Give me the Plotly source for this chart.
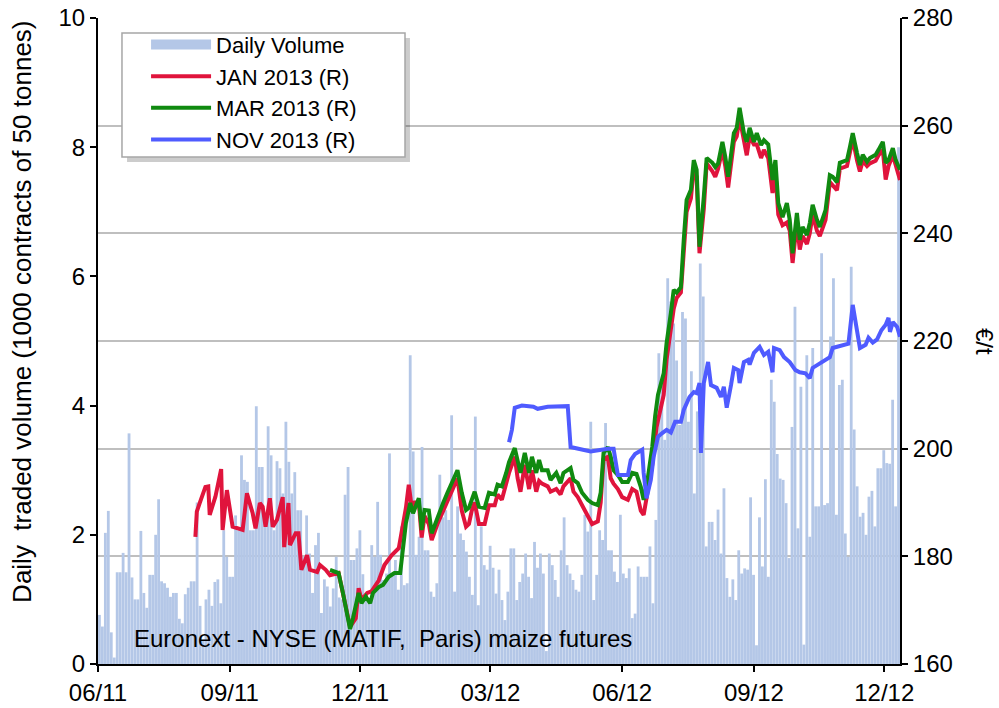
import pandas as pd
import plotly.graph_objects as go

# ---------------- data ----------------
# daily traded volume (1000 contracts), in chronological order, Jun 2011 -> mid Dec 2012
volume = [
    0.76, 0.58, 2.03, 2.37, 0.49, 0.1, 1.42, 1.42, 1.72, 1.42, 3.57, 1.34, 1.0, 1.0, 2.06, 1.1, 0.87, 1.38, 1.38,
    2.0, 2.55, 1.28, 1.25, 1.18, 1.04, 1.1, 1.1, 0.7, 0.63, 1.08, 1.18, 1.28, 1.28, 2.5, 0.9, 0.37, 1.0,
    1.15, 0.9, 1.27, 1.31, 0.94, 2.07, 1.66, 1.35, 1.35, 2.3, 2.07, 3.23, 2.85, 2.82, 2.07, 2.07, 3.99, 3.05,
    3.05, 2.15, 3.68, 3.23, 2.07, 3.14, 3.03, 2.64, 3.75, 3.13, 2.64, 2.97, 2.38, 2.38, 1.66, 2.3, 1.71, 1.1,
    1.84, 2.03, 0.79, 1.31,
    1.2, 0.89, 1.17, 1.66, 1.03, 1.0, 2.62, 3.05, 1.61, 1.61, 1.79, 2.07, 1.39, 0.99, 0.99, 1.84, 1.66, 2.51,
    1.69, 1.3, 1.4, 3.26, 1.4, 1.61, 1.15, 2.13, 1.22, 1.25, 4.78, 3.29, 1.69, 1.97, 3.36, 1.76, 1.76, 1.12,
    1.04, 1.25, 2.93, 2.27,
    2.38, 2.23, 3.85, 1.12, 2.44, 2.02, 1.92, 1.74, 1.35, 1.07, 3.83, 0.91, 2.13, 1.53, 1.46, 1.83, 1.49, 1.09,
    1.46, 0.99, 0.68, 1.12, 1.79, 1.79, 0.99, 1.27, 1.4, 1.71, 1.35, 1.02, 1.89, 1.49, 1.71, 1.4, 0.2, 1.71,
    1.53, 1.3, 1.04, 1.76,
    2.27, 1.53, 1.4, 1.3, 1.15, 1.12, 1.38, 2.31, 2.05, 3.75, 0.99, 1.38, 2.07, 1.92, 3.73, 1.76, 1.76, 1.43,
    1.27, 2.31, 1.4, 1.33, 1.48, 0.71, 0.78, 1.51, 1.35, 1.35, 1.35, 1.82, 0.94, 2.23, 4.81, 4.4, 3.47, 5.97,
    5.61, 5.27, 4.7,
    3.7, 5.45, 5.35, 3.75, 4.53, 2.64, 3.91, 6.2, 5.69, 1.82, 2.2, 2.2, 1.92, 2.39, 1.71, 2.72, 1.33, 1.04,
    1.31, 0.99, 1.76, 1.4, 1.48, 1.46, 2.58, 1.38, 0.29, 2.27, 1.51, 2.86, 1.35, 4.4, 4.06, 3.25, 2.87, 2.85,
    2.49, 1.64, 3.67,
    5.53, 2.1, 4.29, 0.3, 4.78, 1.97, 4.89, 2.44, 2.44, 6.36, 2.46, 2.49, 5.07, 5.97, 2.31, 4.32, 4.4, 2.02,
    1.66, 6.15, 3.63, 2.75, 2.28, 2.34, 2.0, 2.59, 2.68, 2.13, 3.03, 3.03, 3.31, 3.11, 3.1, 4.09, 2.44, 8.0,
]
volume_first_day = "2011-06-02"
volume_last_day = "2012-12-11"

# futures prices (EUR/t); dates given as day offsets from 1 June 2011
base_date = "2011-06-01"
jan_day = [68, 69, 71, 75, 77, 78, 82, 86, 87, 90, 94, 97, 101, 104, 108, 110, 113, 115, 117, 120, 122, 125, 129,
           130, 133, 134, 138, 140, 142, 146, 148, 153, 155, 159, 162, 168, 171, 176, 180, 182, 184, 188, 191, 196,
           200, 205, 210, 213, 215, 217, 219, 221, 224, 226, 228, 231, 233, 237, 241, 244, 247, 251, 254, 257, 259,
           261, 263, 266, 270, 273, 277, 279, 282, 285, 287, 291, 293, 295, 298, 301, 303, 306, 308, 310, 314, 316,
           320, 323, 325, 330, 332, 335, 338, 342, 345, 349, 351, 353, 356, 358, 360, 363, 366, 370, 373, 376, 379,
           381, 384, 387, 390, 395, 397, 400, 402, 404, 407, 409, 411, 414, 416, 418, 420, 423, 425, 429, 431, 433,
           436, 438, 440, 444, 446, 448, 451, 453, 455, 458, 460, 463, 465, 468, 471, 473, 475, 478, 481, 483, 485,
           488, 490, 492, 495, 497, 499, 502, 504, 508, 511, 513, 516, 518, 523, 525, 527, 530, 532, 534, 537, 539,
           543, 545, 548, 550, 552, 555, 557, 560]
jan_eur = [183.6, 188.3, 189.9, 192.9, 193, 187.7, 191.1, 196.2, 184.9, 192.3, 185.5, 185.2, 184.9, 191.7, 188,
           185.2, 189.9, 189.2, 185.5, 190.8, 185.5, 186.8, 191, 181.7, 189.9, 182.1, 184.3, 184.3, 177.5, 180.2,
           177.5, 177.1, 178.4, 177.5, 176.5, 176.9, 173.2, 166.9, 168.5, 174.1, 171.9, 173.2, 173.5, 175.5, 178.4,
           180.2, 181.5, 185.8, 189, 193.3, 189.2, 190, 190, 183.5, 187.5, 186, 183, 186, 188.5, 190.5, 192, 194.5,
           188.5, 185.5, 186, 188.5, 190, 186, 186, 189.5, 189.5, 191.5, 190.5, 193.5, 195.5, 198.5, 194.5, 192,
           197, 192.5, 196, 192, 194, 193.5, 193, 192, 192.5, 191.5, 193, 194.5, 192, 191, 189.5, 187.5, 186,
           186.5, 190, 198, 198.5, 194.5, 193.5, 192.5, 191, 190.5, 192.5, 192, 188.5, 187.7, 192, 197, 204, 210,
           216.5, 222, 226, 228, 229, 236.5, 244, 246.5, 252, 250.5, 236.3, 244.5, 253, 251.5, 250.5, 252, 255.5,
           252.5, 248.5, 257, 258, 261.5, 257, 254.5, 258, 256.5, 256.5, 254, 255.5, 254, 247.5, 251.5, 243.5,
           241.5, 242, 240.5, 234.5, 242, 237, 239.5, 238, 240, 243.5, 240.5, 239.5, 242.5, 249.5, 249, 248, 252,
           252.5, 255, 257.5, 253.5, 251.5, 253.5, 252.5, 253, 253.5, 254.5, 255.5, 250, 252.5, 254.5, 252.5, 249.9]

mar_day = [162, 168, 171, 176, 178, 182, 184, 187, 190, 192, 196, 199, 203, 207, 211, 213, 215, 218, 220, 224, 226,
           228, 231, 233, 237, 241, 244, 247, 251, 254, 257, 259, 261, 263, 266, 270, 273, 277, 279, 282, 285, 287,
           291, 293, 295, 298, 301, 303, 306, 308, 310, 314, 316, 320, 323, 325, 330, 332, 335, 338, 342, 345, 349,
           351, 353, 356, 358, 360, 363, 366, 370, 373, 376, 379, 381, 384, 387, 389, 391, 395, 397, 400, 402, 404,
           407, 409, 411, 414, 416, 418, 420, 423, 425, 429, 431, 433, 436, 438, 440, 444, 446, 448, 451, 453, 455,
           458, 460, 463, 465, 468, 471, 473, 475, 478, 481, 483, 485, 488, 490, 492, 495, 497, 499, 502, 504, 508,
           511, 513, 516, 518, 523, 525, 527, 530, 532, 534, 537, 539, 543, 545, 548, 550, 552, 555, 557, 560]
mar_eur = [177.5, 176.9, 173.2, 166.5, 168.5, 173.2, 171.3, 172.5, 171.3, 173.2, 174.3, 174.7, 176.2, 176.9, 176.9,
           181.2, 186.2, 189.9, 188, 190.8, 184.9, 188.6, 188.5, 184.3, 187.3, 189.9, 191.8, 193.6, 196, 191.8,
           188.6, 189, 190.5, 192, 189.2, 189, 191.8, 191.5, 193.3, 193, 195.5, 197.5, 200.1, 197.9, 195.5, 199.2,
           195.5, 198.5, 195.5, 197.9, 196, 196, 194.2, 195.5, 193.6, 195.5, 196.4, 194.2, 193.6, 191.8, 190.5,
           189.9, 189.5, 191.8, 199.2, 200.3, 198.5, 196, 195.1, 193.8, 193.8, 195.5, 195.3, 192.9, 190.5, 194.7,
           200.3, 206, 210, 214, 219.6, 225.2, 229.5, 229, 230, 238.8, 246.2, 248.1, 253.6, 251.8, 237.5, 246.8,
           254, 253.1, 252.3, 253, 257, 254.2, 250.5, 258.6, 259.6, 263.3, 258.6, 257, 259.6, 257, 258.6, 256.4,
           257.3, 256.5, 249.9, 253.6, 245.6, 243, 245.6, 242.5, 236.3, 243.8, 238.8, 241.2, 239.7, 241.9, 245.3,
           242.5, 241.2, 244.3, 250.8, 250.5, 249.5, 253.1, 253.6, 256, 258.6, 254.9, 252.7, 254.6, 253.3, 254,
           254.6, 255.5, 257, 253.1, 253.6, 255.8, 253.6, 251.8]

nov_day = [287, 289, 291, 296, 304, 307, 314, 328, 330, 338, 344, 356, 360, 363, 370, 372, 375, 380, 381, 383, 386,
           388, 391, 394, 397, 400, 403, 407, 409, 413, 416, 418, 420, 421, 423, 426, 428, 432, 435, 437, 439, 442,
           444, 447, 448, 451, 454, 455, 458, 462, 465, 468, 471, 472, 476, 479, 483, 487, 490, 494, 497, 499, 504,
           508, 511, 513, 516, 520, 524, 527, 530, 532, 536, 538, 541, 544, 547, 550, 552, 553, 555, 558, 560]
nov_eur = [201.2, 203.5, 207.6, 208, 207.8, 207.4, 207.8, 207.9, 200.3, 199.8, 199.5, 200, 200, 195.1, 195.1, 197.9,
           199, 199.8, 195.5, 190.8, 194.2, 198.5, 202.2, 202.9, 203.5, 203, 205, 205, 207.2, 209.6, 210.5, 210.3,
           212.2, 199.2, 212.2, 216.1, 211.8, 211.3, 209.6, 211.5, 207.6, 211.8, 215, 214.6, 212.2, 216.1, 216.5,
           215.6, 217.8, 218.9, 217.4, 218, 214.2, 218.7, 218.3, 217, 216.1, 214.6, 214.2, 214, 213.1, 215, 215.9,
           216.5, 217, 218.7, 218.9, 219.3, 219.5, 226.7, 221.5, 218.7, 219.3, 220.6, 219.7, 220.3, 222, 223, 224.3,
           221.7, 223.5, 222.6, 220.8]

x_tick_labels = ["06/11", "09/11", "12/11", "03/12", "06/12", "09/12", "12/12"]
x_tick_dates = ["2011-06-01", "2011-09-01", "2011-12-01", "2012-03-01", "2012-06-01", "2012-09-01", "2012-12-01"]

# ---------------- figure ----------------
base = pd.Timestamp(base_date)
vol_dates = pd.date_range(volume_first_day, volume_last_day, periods=len(volume))


def to_dates(days):
    return [base + pd.Timedelta(days=d) for d in days]


FONT = "Liberation Sans, Arial, sans-serif"
VOL_COLOR = "#b4c7e7"

fig = go.Figure()
# legend swatch for the volume bars (wide block like the original legend)
fig.add_trace(go.Scatter(x=[None], y=[None], name="Daily Volume", mode="lines",
                         line=dict(color=VOL_COLOR, width=15), yaxis="y", hoverinfo="skip"))
fig.add_trace(go.Bar(x=vol_dates, y=volume, name="Daily Volume", showlegend=False,
                     marker=dict(color=VOL_COLOR, line=dict(width=0)), yaxis="y"))
fig.add_trace(go.Scatter(x=to_dates(jan_day), y=jan_eur, name="JAN 2013 (R)", mode="lines",
                         line=dict(color="#e0143c", width=4), yaxis="y2"))
fig.add_trace(go.Scatter(x=to_dates(mar_day), y=mar_eur, name="MAR 2013 (R)", mode="lines",
                         line=dict(color="#108a10", width=4), yaxis="y2"))
fig.add_trace(go.Scatter(x=to_dates(nov_day), y=nov_eur, name="NOV 2013 (R)", mode="lines",
                         line=dict(color="#4f5bff", width=4), yaxis="y2"))

axis_common = dict(zeroline=False, showline=True, linecolor="black", linewidth=2,
                   ticks="outside", ticklen=6, tickwidth=2, tickcolor="black",
                   tickfont=dict(size=24), ticklabeloverflow="allow", automargin=False)

fig.update_layout(
    width=999, height=708,
    margin=dict(l=98, r=99, t=18, b=44, autoexpand=False),
    paper_bgcolor="white", plot_bgcolor="white",
    font=dict(family=FONT, size=24, color="black"),
    bargap=0.05,
    hovermode=False,
    showlegend=True,
    legend=dict(x=0.03, y=0.991, xanchor="left", yanchor="top",
                bgcolor="rgba(0,0,0,0)", borderwidth=0,
                font=dict(size=22, family=FONT), itemwidth=60, indentation=24,
                tracegroupgap=0),
    xaxis=dict(type="date", range=["2011-06-01", "2012-12-12"],
               tickvals=x_tick_dates, ticktext=x_tick_labels, showgrid=False, **axis_common),
    yaxis=dict(range=[0, 10], dtick=2, showgrid=False, **axis_common),
    yaxis2=dict(range=[160, 280], dtick=20, overlaying="y", side="right",
                showgrid=True, gridcolor="#bfbfbf", gridwidth=1.5, **axis_common),
    shapes=[
        # soft shadow behind the legend box
        dict(type="rect", xref="paper", yref="paper", x0=0.0362, x1=0.389, y0=0.7771, y1=0.969,
             line=dict(width=0), fillcolor="rgba(0,0,0,0.2)", layer="above"),
        # legend box
        dict(type="rect", xref="paper", yref="paper", x0=0.0299, x1=0.3828, y0=0.7848, y1=0.9768,
             line=dict(width=1.5, color="#a6a6a6"), fillcolor="white", layer="above"),
    ],
    annotations=[
        dict(text="Daily  traded volume (1000 contracts of 50 tonnes)", textangle=-90,
             xref="paper", yref="paper", x=-0.0948, y=0.545, xanchor="center", yanchor="middle",
             showarrow=False, font=dict(size=26)),
        dict(text="€/t", textangle=90, xref="paper", yref="paper", x=1.106, y=0.5,
             xanchor="center", yanchor="middle", showarrow=False, font=dict(size=24)),
        dict(text="Euronext - NYSE (MATIF,  Paris) maize futures", xref="paper", yref="paper",
             x=0.042, y=0.04, xanchor="left", yanchor="middle", showarrow=False, font=dict(size=24)),
    ],
)

# the page body gets no default margin so the 999x708 figure fills the window exactly
fig.write_html("out.html", config={"displayModeBar": False},
               post_script="document.body.style.margin='0px';")
